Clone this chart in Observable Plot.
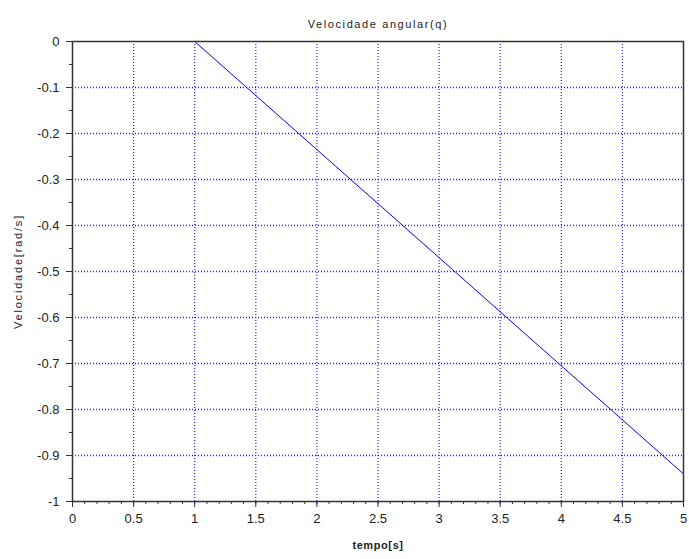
<!DOCTYPE html>
<html><head><meta charset="utf-8">
<script src="https://cdn.jsdelivr.net/npm/d3@7"></script>
<script src="https://cdn.jsdelivr.net/npm/@observablehq/plot@0.6"></script>
<style>body{margin:0;background:#fff}</style>
</head><body><div id="chart"></div>
<script>
const tempo = [1, 2, 3, 4, 5];
const velocidade = [0, -0.235, -0.47, -0.705, -0.94];
const xTicks = [0, 0.5, 1, 1.5, 2, 2.5, 3, 3.5, 4, 4.5, 5];
const yTicks = [0, -0.1, -0.2, -0.3, -0.4, -0.5, -0.6, -0.7, -0.8, -0.9, -1];
const xMinor = d3.range(0, 51).map(i => i / 10);
const yMinor = d3.range(0, 21).map(i => -i / 20);
const title = "Velocidade angular(q)";
const xLabel = "tempo[s]";
const yLabel = "Velocidade[rad/s]";

const data = tempo.map((t, i) => ({t, v: velocidade[i]}));
const fmt = d => d === 0 ? "0" : String(d);
const gridColor = "#2020ff";

const chart = Plot.plot({
  width: 689, height: 559,
  marginLeft: 72, marginRight: 6, marginTop: 41, marginBottom: 58,
  style: {fontFamily: "'Liberation Sans', Arial, sans-serif", fontSize: "13px", color: "#222"},
  x: {domain: [0, 5]},
  y: {domain: [-1, 0]},
  marks: [
    Plot.gridX(xTicks.slice(1, -1), {stroke: gridColor, strokeOpacity: 1, strokeDasharray: "1,2", strokeWidth: 1.2}),
    Plot.gridY(yTicks.slice(1, -1), {stroke: gridColor, strokeOpacity: 1, strokeDasharray: "1,2", strokeWidth: 1.3}),
    Plot.line(data, {x: "t", y: "v", stroke: "#0000ff", strokeWidth: 1}),
    Plot.frame({stroke: "#333", strokeWidth: 1.5}),
    Plot.axisX(xMinor, {tickSize: 3, text: null, stroke: "#333", label: null}),
    Plot.axisY(yMinor, {tickSize: 3, text: null, stroke: "#333", label: null}),
    Plot.axisX(xTicks, {tickSize: 6, tickPadding: 6, tickFormat: fmt, stroke: "#333", fontSize: 13, fill: "#222", label: null}),
    Plot.axisY(yTicks, {tickSize: 6, tickPadding: 7, tickFormat: fmt, stroke: "#333", fontSize: 13, fill: "#222", label: null}),
    Plot.text([title], {frameAnchor: "top", dy: -21, fontSize: 11, fill: "#222", textAnchor: "middle"}),
    Plot.text([xLabel], {frameAnchor: "bottom", dy: 47, fontSize: 11, fill: "#222", fontWeight: "bold", textAnchor: "middle"}),
    Plot.text([yLabel], {frameAnchor: "left", dx: -54, rotate: -90, fontSize: 11, fill: "#222", textAnchor: "middle"})
  ]
});
const spacing = {[title]: "1.6px", [xLabel]: "0.6px", [yLabel]: "1.8px"};
d3.select(chart).selectAll("text").each(function() {
  const s = spacing[this.textContent];
  if (s) this.style.letterSpacing = s;
});
document.getElementById("chart").appendChild(chart);
</script>
</body></html>
